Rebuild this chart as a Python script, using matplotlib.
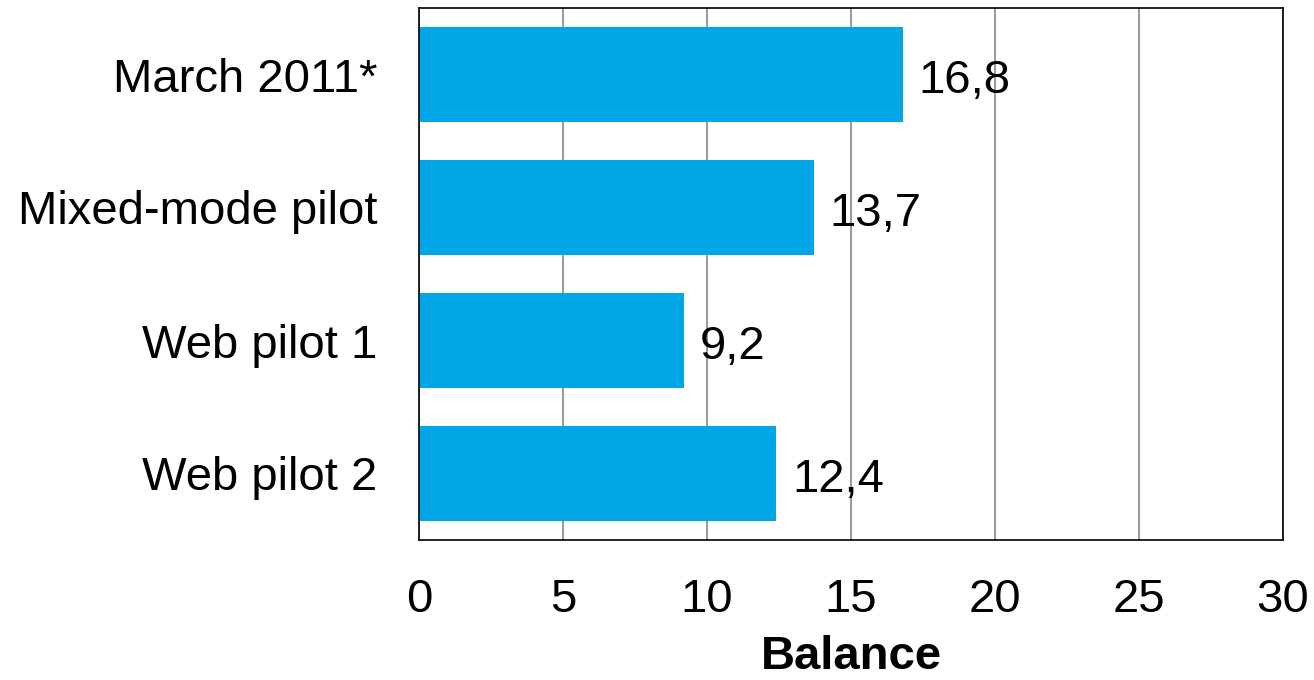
import matplotlib.pyplot as plt

plt.rcParams['font.family'] = ['Liberation Sans', 'DejaVu Sans']

categories = ['March 2011*', 'Mixed-mode pilot', 'Web pilot 1', 'Web pilot 2']
balance = [16.8, 13.7, 9.2, 12.4]
x_ticks = [0, 5, 10, 15, 20, 25, 30]

fig = plt.figure(figsize=(13.14, 6.8), dpi=100)
ax = fig.add_axes([419 / 1314, 1 - 540 / 680, 864 / 1314, 532 / 680])

ypos = range(len(categories))
ax.barh(ypos, balance, height=0.707, color='#00A6E6', zorder=2)

# value labels right of each bar
for y, v in zip(ypos, balance):
    ax.text(v + 0.55, y + 0.05, f'{v:.1f}'.replace('.', ','), va='center', ha='left',
            fontsize=34, zorder=3)

ax.set_xlim(0, 30)
ax.set_ylim(3.5, -0.5)
ax.set_xticks(x_ticks)
ax.set_yticks(list(ypos))
ax.set_yticklabels(categories)
ax.tick_params(axis='both', length=0, labelsize=34)
ax.tick_params(axis='y', pad=30)
ax.tick_params(axis='x', pad=27)
ax.xaxis.grid(True, color='#888888', linewidth=1.2, zorder=0)
ax.set_axisbelow(True)
for s in ax.spines.values():
    s.set_color('black')
    s.set_linewidth(1.2)

ax.set_xlabel('Balance', fontsize=34, fontweight='bold', labelpad=10)

fig.savefig('out.png', dpi=100)
